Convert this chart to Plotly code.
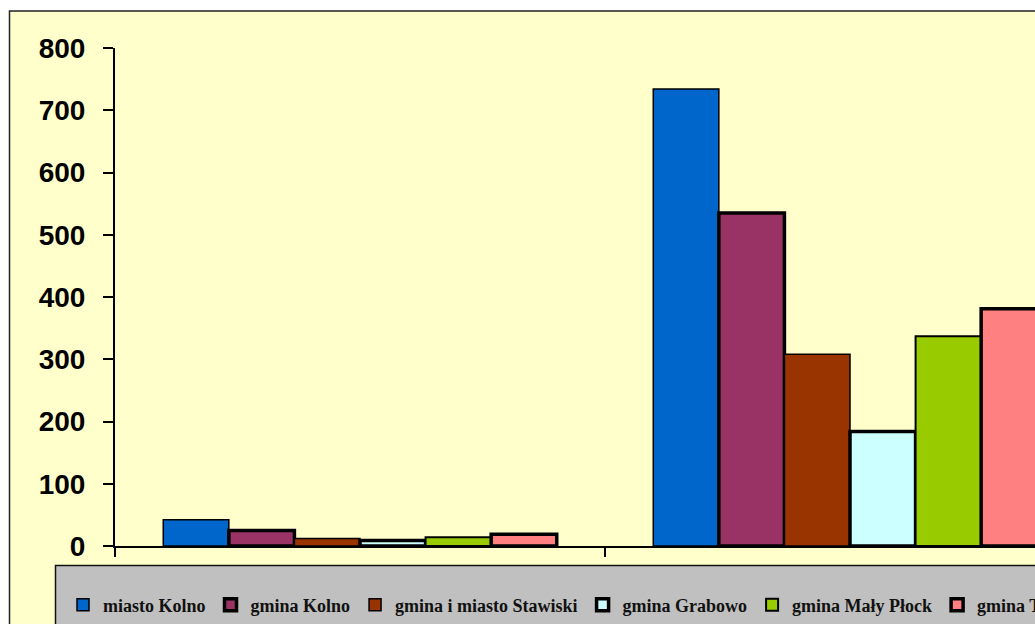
import plotly.graph_objects as go

# ---- data ----
categories = ["Kategoria 1", "Kategoria 2"]
series_names = ["miasto Kolno", "gmina Kolno", "gmina i miasto Stawiski",
                "gmina Grabowo", "gmina Mały Płock", "gmina Turośl"]
miasto_kolno = [42, 734]
gmina_kolno = [25, 535]
gmina_stawiski = [12, 308]
gmina_grabowo = [9, 184]
gmina_maly_plock = [14, 337]
gmina_turosl = [19, 381]
y_ticks = [0, 100, 200, 300, 400, 500, 600, 700, 800]

values = [miasto_kolno, gmina_kolno, gmina_stawiski, gmina_grabowo, gmina_maly_plock, gmina_turosl]
colors = ["#0066CC", "#993366", "#993300", "#CCFFFF", "#99CC00", "#FF8080"]
line_widths = [1.5, 3.5, 1.5, 3.5, 2, 3.5]

# ---- layout geometry (pixels) ----
W, H = 1035, 624
L, T, R = 115, 48, 0
B = H - 546
CAT_PX = 490  # width of one category band
PW = W - L - R
PH = H - T - B


def px_x(x):
    """page pixel x -> paper coordinate"""
    return (x - L) / PW


def px_y(y):
    """page pixel y -> paper coordinate"""
    return (H - B - y) / PH


fig = go.Figure()
for name, vals, col, lw in zip(series_names, values, colors, line_widths):
    fig.add_trace(go.Bar(
        x=categories, y=vals, name=name,
        marker=dict(color=col, line=dict(color="black", width=lw)),
    ))

shapes = [
    # outer chart area
    dict(type="rect", xref="paper", yref="paper", layer="below",
         x0=px_x(9.5), x1=px_x(1200), y0=px_y(11), y1=px_y(800),
         fillcolor="#FFFFCC", line=dict(color="#222222", width=1.5)),
    # legend box
    dict(type="rect", xref="paper", yref="paper", layer="below",
         x0=px_x(55.5), x1=px_x(1200), y0=px_y(565.5), y1=px_y(800),
         fillcolor="#C0C0C0", line=dict(color="#111111", width=1.5)),
]

fig.update_layout(
    width=W, height=H,
    margin=dict(l=L, r=R, t=T, b=B, autoexpand=False),
    paper_bgcolor="white",
    plot_bgcolor="rgba(0,0,0,0)",
    barmode="group",
    bargap=0.197,
    bargroupgap=0,
    shapes=shapes,
    showlegend=True,
    legend=dict(
        orientation="h",
        x=px_x(63), xanchor="left",
        y=px_y(605), yanchor="middle",
        bgcolor="rgba(0,0,0,0)",
        font=dict(family="Liberation Serif", size=18, color="#111111", weight="bold"),
        itemwidth=30,
        traceorder="normal",
    ),
    xaxis=dict(
        range=[-0.5, -0.5 + PW / CAT_PX],
        showticklabels=False,
        tickson="boundaries",
        ticks="outside", ticklen=9, tickwidth=1.5, tickcolor="black",
        showline=True, linecolor="black", linewidth=1.5,
        showgrid=False, zeroline=False,
    ),
    yaxis=dict(
        range=[0, 800],
        tickvals=y_ticks,
        ticks="outside", ticklen=10, tickwidth=1.5, tickcolor="black",
        ticklabelstandoff=12,
        showline=True, linecolor="black", linewidth=2,
        showgrid=False, zeroline=False,
        tickfont=dict(family="Liberation Sans", size=28, color="black", weight="bold"),
    ),
)

fig.write_html(
    "out.html",
    config={"displayModeBar": False},
    post_script="document.body.style.margin='0';document.body.style.overflow='hidden';",
)
